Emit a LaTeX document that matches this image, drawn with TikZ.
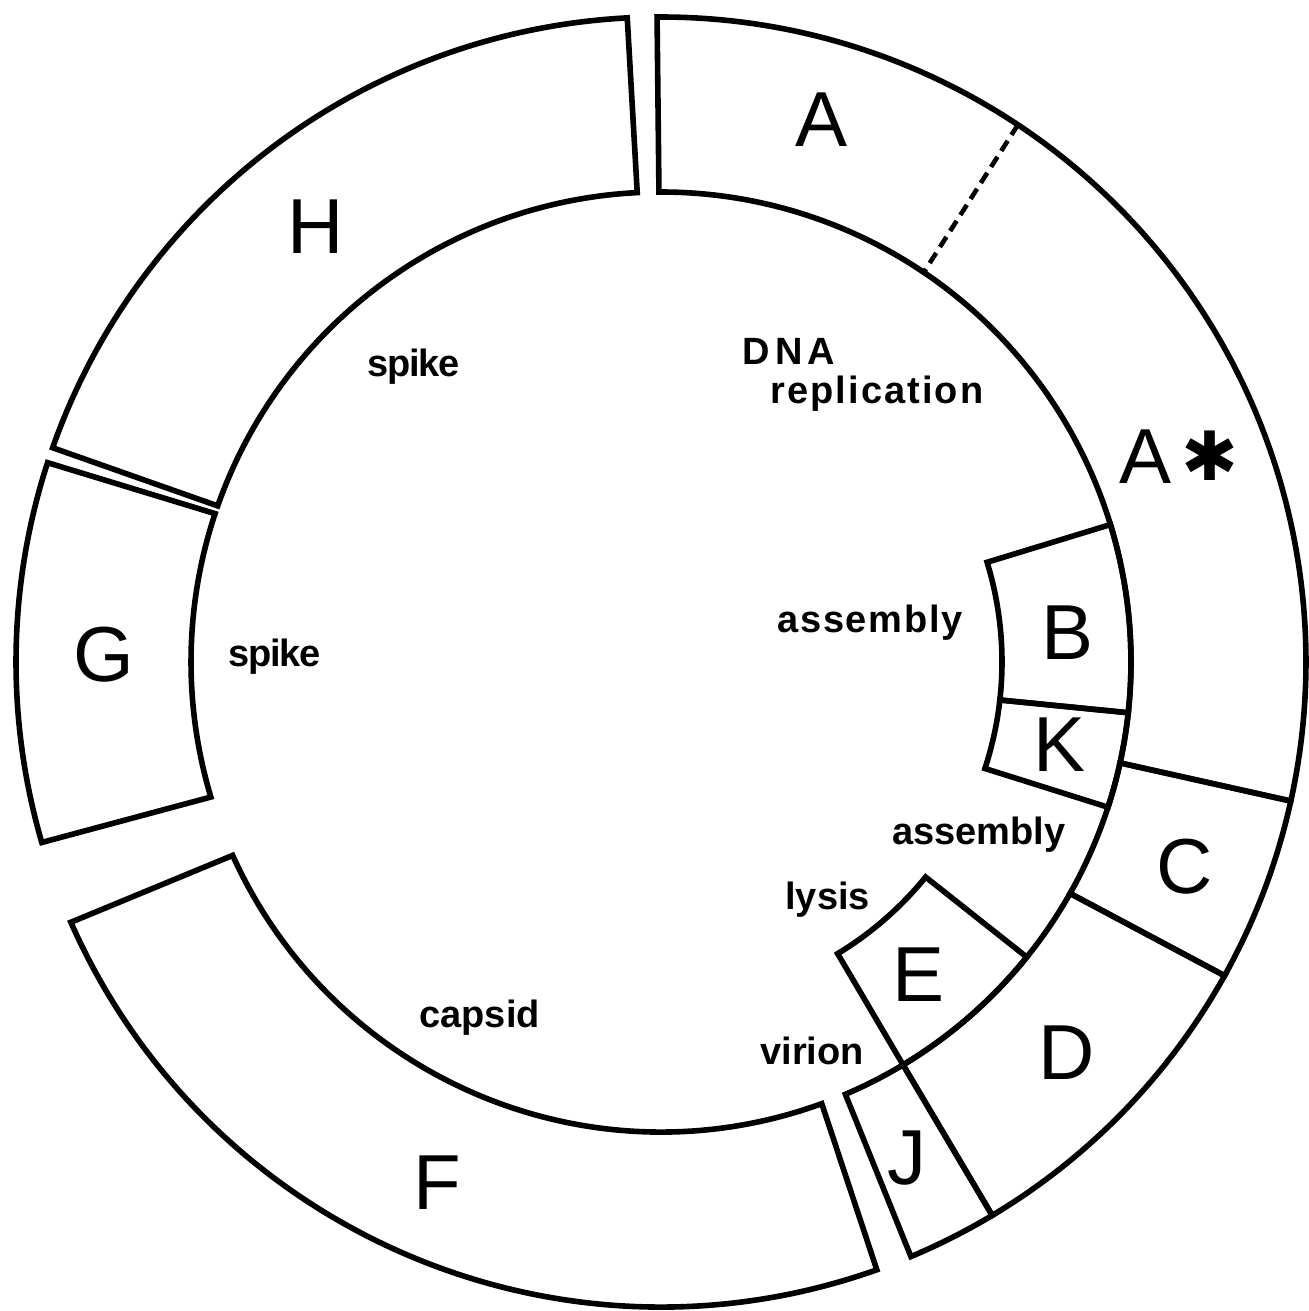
\documentclass[tikz,border=0pt]{standalone}
\usepackage{fontspec}
\setmainfont{Liberation Sans}
\newfontfamily\symfont{DejaVu Sans}
\begin{document}
\begin{tikzpicture}[x=0.5pt,y=0.5pt,
  seg/.style={draw=black, line width=2.8pt, line join=miter},
  dashline/.style={draw=black, line width=2.3pt, dash pattern=on 6pt off 3.5pt},
  big/.style={inner sep=0pt, font=\fontsize{39}{39}\selectfont},
  lab/.style={inner sep=0pt, anchor=base west, font=\bfseries\fontsize{19}{19}\selectfont},
  sym/.style={inner sep=0pt, font=\symfont\bfseries\fontsize{34}{34}\selectfont}]
\useasboundingbox (0,0) rectangle (1308,1311);
\def\rOut{645}
\def\rIn{470}
\def\rNest{341}
\begin{scope}[shift={(661,649)}]
  % H
  \draw[seg] (93.0:\rOut) arc[start angle=93.0,end angle=160.6,radius=\rOut]
     -- (160.6:\rIn) arc[start angle=160.6,end angle=92.9,radius=\rIn] -- cycle;
  % G
  \draw[seg] (162.0:\rOut) arc[start angle=162.0,end angle=196.25,radius=\rOut]
     -- (196.7:\rIn) arc[start angle=196.7,end angle=161.6,radius=\rIn] -- cycle;
  % F
  \draw[seg] (203.8:\rOut) arc[start angle=203.8,end angle=289.55,radius=\rOut]
     -- (290.0:\rIn) arc[start angle=290.0,end angle=204.3,radius=\rIn] -- cycle;
  % J
  \draw[seg] (-67.2:\rOut) arc[start angle=-67.2,end angle=-59.1,radius=\rOut]
     -- (-59.0:\rIn) arc[start angle=-59.0,end angle=-66.9,radius=\rIn] -- cycle;
  % D
  \draw[seg] (-59.1:\rOut) arc[start angle=-59.1,end angle=-29.1,radius=\rOut]
     -- (-29.5:\rIn) arc[start angle=-29.5,end angle=-59.0,radius=\rIn] -- cycle;
  % C
  \draw[seg] (-29.1:\rOut) arc[start angle=-29.1,end angle=-12.45,radius=\rOut]
     -- (-12.4:\rIn) arc[start angle=-12.4,end angle=-29.5,radius=\rIn] -- cycle;
  % A / A*
  \draw[seg] (90.35:\rOut) arc[start angle=90.35,end angle=-12.45,radius=\rOut]
     -- (-12.4:\rIn) arc[start angle=-12.4,end angle=90.25,radius=\rIn] -- cycle;
  \draw[dashline] (56.4:\rOut) -- (56.0:\rIn);
  % B
  \draw[seg] (17.0:\rIn) arc[start angle=17.0,end angle=-6.2,radius=\rIn]
     -- (-6.4:\rNest) arc[start angle=-6.4,end angle=17.0,radius=\rNest] -- cycle;
  % K
  \draw[seg] (-6.2:\rIn) arc[start angle=-6.2,end angle=-18.0,radius=\rIn]
     -- (-18.2:\rNest) arc[start angle=-18.2,end angle=-6.4,radius=\rNest] -- cycle;
  % E
  \draw[seg] (-38.9:\rIn) arc[start angle=-38.9,end angle=-59.0,radius=\rIn]
     -- (-58.8:\rNest) arc[start angle=-58.8,end angle=-39.1,radius=\rNest] -- cycle;
\end{scope}
% gene letters
\node[big] (lA) at (822,1191) {A};
\node[big] (lH) at (316,1084) {H};
\node[big] (lAs) at (1145,854) {A};
\node[sym] (ast) at (1210,855) {✱};
\node[big] (lB) at (1067,678) {B};
\node[big] (lK) at (1059,566) {K};
\node[big] (lC) at (1185,444) {C};
\node[big] (lD) at (1067,258) {D};
\node[big] (lE) at (919,336) {E};
\node[big] (lJ) at (907,153) {J};
\node[big] (lF) at (437,128) {F};
\node[big] (lG) at (104,656) {G};
% function labels
\node[lab, font=\bfseries\fontsize{19}{19}\selectfont\addfontfeature{LetterSpace=14}] (tDNA) at (742,946) {DNA};
\node[lab, font=\bfseries\fontsize{19}{19}\selectfont\addfontfeature{LetterSpace=5.5}] (tRep) at (770,907) {replication};
\node[lab, font=\bfseries\fontsize{19}{19}\selectfont\addfontfeature{LetterSpace=-3}] (tSpikeH) at (367,934) {spike};
\node[lab, font=\bfseries\fontsize{19}{19}\selectfont\addfontfeature{LetterSpace=-3}] (tSpikeG) at (228,644) {spike};
\node[lab, font=\bfseries\fontsize{19}{19}\selectfont\addfontfeature{LetterSpace=4.5}] (tAsmB) at (777,678) {assembly};
\node[lab] (tAsmK) at (892,466) {assembly};
\node[lab] (tLysis) at (785,401) {lysis};
\node[lab] (tCapsid) at (419,283) {capsid};
\node[lab] (tVirion) at (760,246) {virion};
\end{tikzpicture}
\end{document}
